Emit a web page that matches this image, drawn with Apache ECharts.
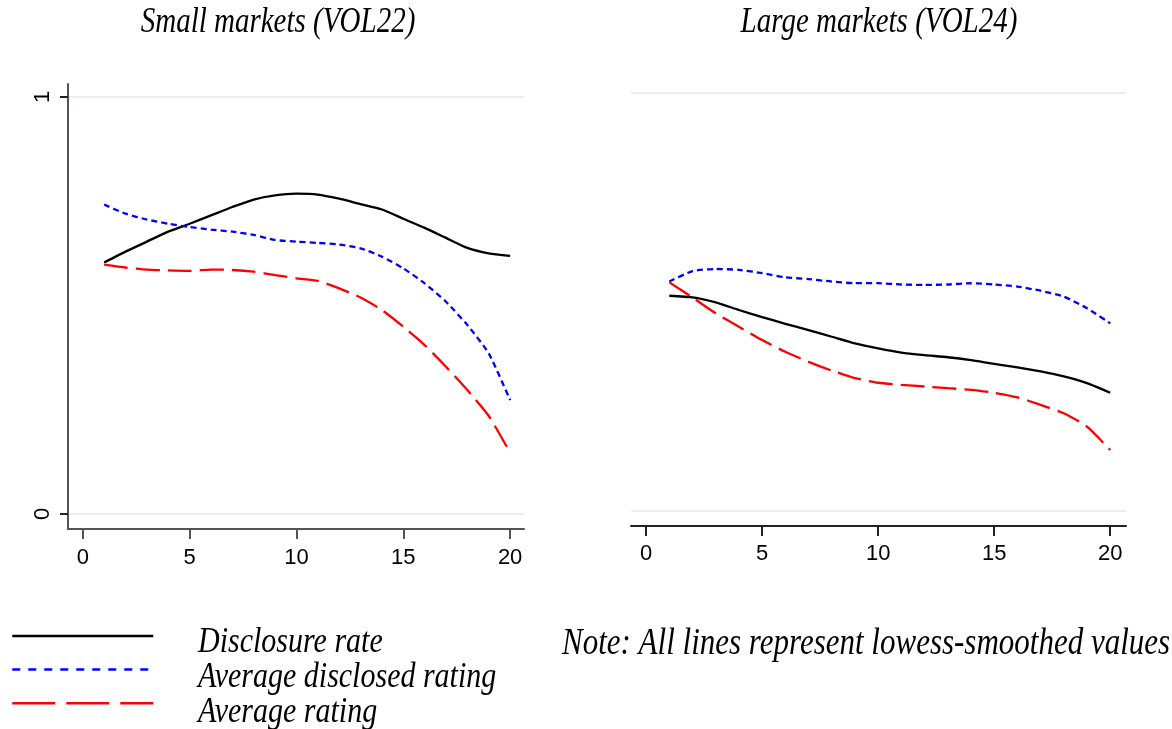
<!DOCTYPE html>
<html>
<head>
<meta charset="utf-8">
<script src="https://cdn.jsdelivr.net/npm/echarts@6/dist/echarts.min.js"></script>
<style>
  html, body { margin: 0; padding: 0; background: #fff; }
  #chart { width: 1172px; height: 729px; }
</style>
</head>
<body>
<div id="chart"></div>
<script>
// positions on the x axis
var xValues = [1, 2, 3, 4, 5, 6, 7, 8, 9, 10, 11, 12, 13, 14, 15, 16, 17, 18, 19, 20];
var xTicks = [0, 5, 10, 15, 20];
var yTicks = [0, 1];

// Small markets (VOL22)
var smallDisclosure = [0.603, 0.629, 0.653, 0.677, 0.696, 0.716, 0.736, 0.754, 0.764, 0.768,
                       0.766, 0.756, 0.743, 0.730, 0.708, 0.686, 0.662, 0.638, 0.625, 0.619];
var smallDisclosed  = [0.742, 0.720, 0.706, 0.696, 0.688, 0.682, 0.677, 0.669, 0.657, 0.653,
                       0.650, 0.646, 0.637, 0.617, 0.589, 0.553, 0.509, 0.453, 0.385, 0.273];
var smallRating     = [0.598, 0.591, 0.586, 0.584, 0.583, 0.586, 0.585, 0.581, 0.573, 0.565,
                       0.559, 0.541, 0.519, 0.489, 0.449, 0.405, 0.353, 0.297, 0.235, 0.147];

// Large markets (VOL24)
var largeDisclosure = [0.514, 0.510, 0.498, 0.480, 0.463, 0.447, 0.432, 0.416, 0.400, 0.388,
                       0.378, 0.372, 0.367, 0.360, 0.351, 0.343, 0.333, 0.321, 0.305, 0.282];
var largeDisclosed  = [0.548, 0.573, 0.578, 0.576, 0.568, 0.558, 0.554, 0.548, 0.544, 0.544,
                       0.541, 0.540, 0.541, 0.544, 0.541, 0.536, 0.526, 0.512, 0.484, 0.448];
var largeRating     = [0.546, 0.510, 0.472, 0.440, 0.408, 0.380, 0.356, 0.335, 0.317, 0.306,
                       0.301, 0.297, 0.293, 0.289, 0.282, 0.271, 0.253, 0.233, 0.201, 0.145];

var NAMES = ['Disclosure rate', 'Average disclosed rating', 'Average rating'];

function pairs(ys) {
  return xValues.map(function (x, i) { return [x, ys[i]]; });
}

var serif = '"Liberation Serif", "Times New Roman", serif';
var sans = '"Liberation Sans", Arial, sans-serif';
var gridColor = '#e9f0f2';

var styles = [
  { color: '#000000', width: 2.3, type: 'solid' },
  { color: '#0000ff', width: 2.3, type: [6, 4] },
  { color: '#ff0000', width: 2.3, type: [24, 8] }
];

function mkSeries(name, idx, ys, gi) {
  return {
    name: name,
    type: 'line',
    xAxisIndex: gi,
    yAxisIndex: gi,
    data: pairs(ys),
    symbol: 'none',
    smooth: 0.2,
    silent: true,
    color: styles[idx].color,
    lineStyle: { color: styles[idx].color, width: styles[idx].width, type: styles[idx].type }
  };
}

// italic serif text, slightly stretched vertically like the original figure
function label(txt, x, y, size, align) {
  return {
    type: 'text', x: x, y: y, scaleY: 1.2,
    style: { text: txt, font: 'italic ' + size + 'px ' + serif, fill: '#000',
             textAlign: align, textVerticalAlign: 'middle' }
  };
}

var chart = echarts.init(document.getElementById('chart'));

var option = {
  backgroundColor: '#fff',
  animation: false,
  grid: [
    { left: 68, right: 648, top: 84, bottom: 200 },
    { left: 631, right: 46, top: 80, bottom: 203 }
  ],
  xAxis: [
    {
      gridIndex: 0, type: 'value', min: -0.69, max: 20.65,
      axisLine: { show: true, onZero: false, lineStyle: { color: '#555', width: 2 } },
      axisTick: { show: true, length: 10, customValues: xTicks, lineStyle: { color: '#555', width: 2 } },
      axisLabel: { customValues: xTicks, margin: 18, fontSize: 22, color: '#000', fontFamily: sans },
      splitLine: { show: false }
    },
    {
      gridIndex: 1, type: 'value', min: -0.65, max: 20.68,
      axisLine: { show: true, onZero: false, lineStyle: { color: '#222', width: 2 } },
      axisTick: { show: true, length: 10, customValues: xTicks, lineStyle: { color: '#222', width: 2 } },
      axisLabel: { customValues: xTicks, margin: 17, fontSize: 22, color: '#000', fontFamily: sans },
      splitLine: { show: false }
    }
  ],
  yAxis: [
    {
      gridIndex: 0, type: 'value', min: -0.036, max: 1.031,
      axisLine: { show: true, onZero: false, lineStyle: { color: '#555', width: 2 } },
      axisTick: { show: true, length: 8, customValues: yTicks, lineStyle: { color: '#222', width: 2 } },
      axisLabel: { customValues: yTicks, rotate: 90, margin: 14, fontSize: 22, color: '#000', fontFamily: sans },
      splitLine: { show: true, lineStyle: { color: gridColor, width: 2 } }
    },
    {
      gridIndex: 1, type: 'value', min: -0.0366, max: 1.030,
      axisLine: { show: false },
      axisTick: { show: false, customValues: yTicks },
      axisLabel: { show: false, customValues: yTicks },
      splitLine: { show: true, lineStyle: { color: gridColor, width: 2 } }
    }
  ],
  legend: {
    orient: 'vertical',
    left: 11,
    top: 629,
    height: 200,
    padding: 0,
    itemWidth: 141,
    itemHeight: 14,
    itemGap: 21,
    selectedMode: false,
    itemStyle: { opacity: 0 },
    formatter: function () { return ''; },
    data: [
      { name: NAMES[0], lineStyle: { width: 2.5, type: 'solid' } },
      { name: NAMES[1], lineStyle: { width: 2.5, type: [8, 8] } },
      { name: NAMES[2], lineStyle: { width: 2.5, type: [43, 11] } }
    ]
  },
  graphic: [
    label('Small markets (VOL22)', 278, 23, 29, 'center'),
    label('Large markets (VOL24)', 879, 23, 29, 'center'),
    label(NAMES[0], 198, 643, 30, 'left'),
    label(NAMES[1], 198, 678, 30, 'left'),
    label(NAMES[2], 198, 713, 30, 'left'),
    label('Note: All lines represent lowess-smoothed values', 562, 644, 31, 'left')
  ],
  series: [
    mkSeries(NAMES[0], 0, smallDisclosure, 0),
    mkSeries(NAMES[1], 1, smallDisclosed, 0),
    mkSeries(NAMES[2], 2, smallRating, 0),
    mkSeries(NAMES[0], 0, largeDisclosure, 1),
    mkSeries(NAMES[1], 1, largeDisclosed, 1),
    mkSeries(NAMES[2], 2, largeRating, 1)
  ]
};

chart.setOption(option);
</script>
</body>
</html>
